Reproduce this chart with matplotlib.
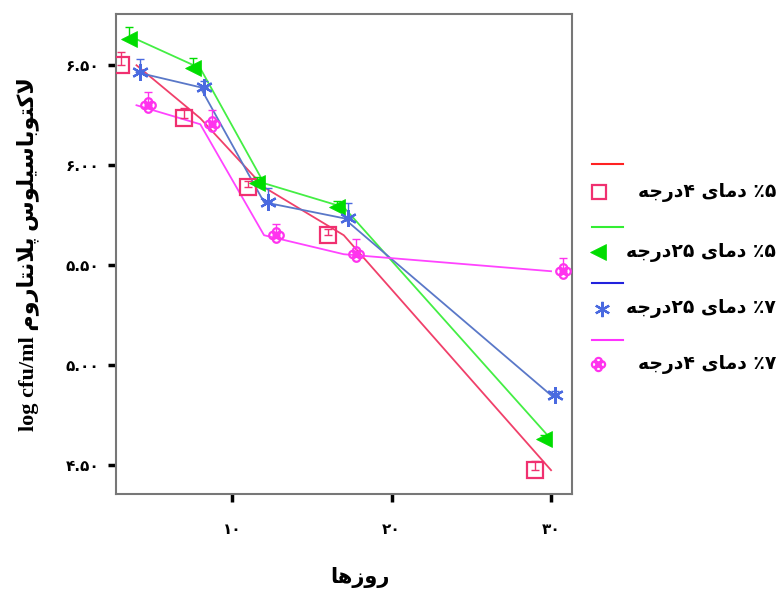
import numpy as np
import matplotlib
matplotlib.use("Agg")
import matplotlib.pyplot as plt
from matplotlib.lines import Line2D
from matplotlib.path import Path

# Persian letters -> (isolated, final, initial, medial) presentation forms
FORMS = {
    "ا": ("\uFE8D", "\uFE8E", None, None),
    "ب": ("\uFE8F", "\uFE90", "\uFE91", "\uFE92"),
    "پ": ("\uFB56", "\uFB57", "\uFB58", "\uFB59"),
    "ت": ("\uFE95", "\uFE96", "\uFE97", "\uFE98"),
    "ج": ("\uFE9D", "\uFE9E", "\uFE9F", "\uFEA0"),
    "د": ("\uFEA9", "\uFEAA", None, None),
    "ر": ("\uFEAD", "\uFEAE", None, None),
    "ز": ("\uFEAF", "\uFEB0", None, None),
    "س": ("\uFEB1", "\uFEB2", "\uFEB3", "\uFEB4"),
    "ک": ("\uFB8E", "\uFB8F", "\uFB90", "\uFB91"),
    "ل": ("\uFEDD", "\uFEDE", "\uFEDF", "\uFEE0"),
    "م": ("\uFEE1", "\uFEE2", "\uFEE3", "\uFEE4"),
    "ن": ("\uFEE5", "\uFEE6", "\uFEE7", "\uFEE8"),
    "ه": ("\uFEE9", "\uFEEA", "\uFEEB", "\uFEEC"),
    "و": ("\uFEED", "\uFEEE", None, None),
    "ی": ("\uFBFC", "\uFBFD", "\uFBFE", "\uFBFF"),
}


def shape(text):
    out = []
    i = 0
    n = len(text)
    while i < n:
        c = text[i]
        if c not in FORMS:
            out.append(c)
            i += 1
            continue
        prev = text[i - 1] if i > 0 else None
        link_prev = prev in FORMS and FORMS[prev][2] is not None
        if c == "ل" and i + 1 < n and text[i + 1] == "ا":
            out.append("\uFEFC" if link_prev else "\uFEFB")
            i += 2
            continue
        nxt = text[i + 1] if i + 1 < n else None
        link_next = FORMS[c][2] is not None and nxt in FORMS
        iso, fin, ini, med = FORMS[c]
        if link_prev and link_next:
            out.append(med)
        elif link_prev:
            out.append(fin)
        elif link_next:
            out.append(ini)
        else:
            out.append(iso)
        i += 1
    return "".join(out)


def fa(text):
    # visual (left-to-right) order of a right-to-left word or phrase
    return shape(text)[::-1]


# ---- data ----
days = [4, 8, 12, 17, 30]
red_vals = [6.50, 6.235, 5.89, 5.65, 4.475]
green_vals = [6.63, 6.485, 5.91, 5.79, 4.63]
blue_vals = [6.465, 6.39, 5.815, 5.735, 4.85]
pink_vals = [6.30, 6.205, 5.65, 5.555, 5.47]

red_err = [0.065, 0.05, 0.03, 0.03, 0.045]
green_err = [0.06, 0.05, 0.03, 0.03, 0.02]
blue_err = [0.065, 0.03, 0.07, 0.075, 0.02]
pink_err = [0.065, 0.07, 0.055, 0.075, 0.065]

yticks = [4.5, 5.0, 5.5, 6.0, 6.5]
ytick_labels = ["۴.۵۰", "۵.۰۰", "۵.۵۰", "۶.۰۰", "۶.۵۰"]
xticks = [10, 20, 30]
xtick_labels = ["۱۰", "۲۰", "۳۰"]

legend_labels = [
    fa("درجه") + "۴ " + fa("دمای") + " ٪۵",
    fa("درجه") + "۲۵ " + fa("دمای") + " ٪۵",
    fa("درجه") + "۲۵ " + fa("دمای") + " ٪۷",
    fa("درجه") + "۴ " + fa("دمای") + " ٪۷",
]
ylabel = "log cfu/ml " + fa("لاکتوباسیلوس پلانتاروم")
xlabel = fa("روزها")

# four small circles arranged as a diamond
_c = 0.42
flower = Path.make_compound_path(
    Path.circle((0, _c), _c), Path.circle((0, -_c), _c),
    Path.circle((_c, 0), _c), Path.circle((-_c, 0), _c))

series = [
    # values, err, jitter, line colour, marker, marker colour, size, legend line colour
    (red_vals, red_err, -1.0, "#F0406A", "s", "#F03070", 11, "#FF2222"),
    (green_vals, green_err, -0.45, "#44EE44", "<", "#00DD00", 12, "#33EE33"),
    (blue_vals, blue_err, 0.25, "#5A78C8", (6, 2, 0), "#4A6AE0", 12, "#2222DD"),
    (pink_vals, pink_err, 0.75, "#FF44FF", flower, "#FF33EE", 10.5, "#FF33FF"),
]

plt.rcParams["font.family"] = ["DejaVu Sans"]
fig = plt.figure(figsize=(7.79, 5.94), dpi=100)
ax = fig.add_axes([0.149, 0.168, 0.585, 0.808])

d = np.array(days, dtype=float)
for vals, err, jit, lc, mk, mc, ms, _ in series:
    ax.plot(d, vals, color=lc, lw=1.3, zorder=2)
    xj = d + jit
    ax.errorbar(xj, vals, yerr=[np.zeros(len(err)), err], fmt="none",
                ecolor=mc, elinewidth=1.0, capsize=3, capthick=1.0, zorder=3)
    filled = mk == "<"
    ax.plot(xj, vals, linestyle="none", marker=mk, markersize=ms,
            markerfacecolor=mc if filled else "none", markeredgecolor=mc,
            markeredgewidth=1.6 if not filled else 0.5, zorder=4)

ax.set_xlim(2.72, 31.3)
ax.set_ylim(4.355, 6.755)
ax.set_xticks(xticks)
ax.set_xticklabels(xtick_labels, fontsize=11, fontweight="bold")
ax.set_yticks(yticks)
ax.set_yticklabels(ytick_labels, fontsize=11, fontweight="bold")
ax.tick_params(direction="out", length=6, width=2.5, color="black", pad=6)
ax.tick_params(axis="x", pad=14)
for sp in ax.spines.values():
    sp.set_color("#777777")
    sp.set_linewidth(1.5)

fig.text(0.036, 0.572, ylabel, rotation=90, ha="center", va="center",
         fontsize=16, fontweight="bold",
         family=["Liberation Serif", "DejaVu Sans"])
fig.text(0.462, 0.027, xlabel, ha="center", va="center",
         fontsize=15, fontweight="bold")

# legend drawn beside the plot, one line row and one marker row per series
W, H = 779.0, 594.0
line_rows = [164, 227, 283, 340]
mark_rows = [192, 252, 309, 364]
mark_x = [599, 598, 602, 598]
for k, (vals, err, jit, lc, mk, mc, ms, legc) in enumerate(series):
    yl = 1 - line_rows[k] / H
    fig.add_artist(Line2D([592 / W, 623 / W], [yl, yl], color=legc, lw=1.5,
                          transform=fig.transFigure))
    ym = 1 - mark_rows[k] / H
    filled = mk == "<"
    fig.add_artist(Line2D([mark_x[k] / W], [ym], linestyle="none", marker=mk,
                          markersize=ms - 1,
                          markerfacecolor=mc if filled else "none",
                          markeredgecolor=mc,
                          markeredgewidth=1.6 if not filled else 0.5,
                          transform=fig.transFigure))
    fig.text(776 / W, ym, legend_labels[k], ha="right", va="center",
             fontsize=13.5, fontweight="bold")

fig.savefig("out.png", dpi=100)
